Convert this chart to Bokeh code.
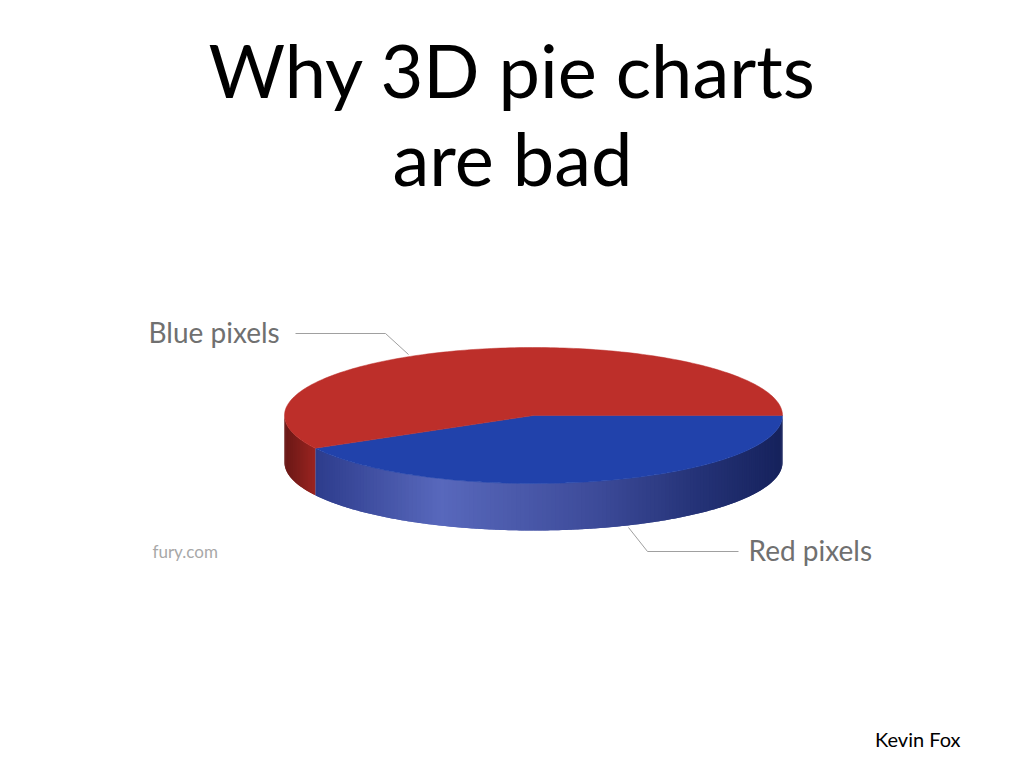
import numpy as np
from bokeh.plotting import figure
from bokeh.models import Range1d
from bokeh.core.properties import value
from bokeh.embed import file_html
from bokeh.resources import INLINE

# ---- data ----
slice_names = ["blue slice", "red slice"]
slice_values = [42, 58]          # percent, blue slice drawn first (clockwise from east)
slice_top_colors = ["#2142ab", "#bd2f2a"]
label_texts = ["Blue pixels", "Red pixels"]
title_lines = ["Why 3D pie charts", "are bad"]
source_text = "fury.com"
author_text = "Kevin Fox"

# ---- geometry (screen pixels, y downward) ----
W, H = 1024, 768
cx, cy, rx, ry, depth = 533, 415, 249, 68, 47

p = figure(width=W, height=H, output_backend="svg", toolbar_location=None,
           x_range=Range1d(0, W), y_range=Range1d(H, 0), min_border=0)
p.axis.visible = False
p.grid.visible = False
p.outline_line_color = None
p.background_fill_color = "white"
p.border_fill_color = "white"

def ell(t):
    return cx + rx * np.cos(t), cy + ry * np.sin(t)

total = float(sum(slice_values))
bounds = np.concatenate([[0.0], np.cumsum(slice_values) / total * 2 * np.pi])

# side colour ramps (by x position)
blue_stops_x = [315, 440, 600, 700, 782]
blue_stops_c = [(45, 60, 140), (88, 104, 188), (60, 74, 152), (36, 50, 118), (22, 34, 92)]
red_stops_x = [284, 300, 315]
red_stops_c = [(105, 24, 22), (130, 30, 27), (155, 36, 32)]

def ramp(x, xs, cs):
    cs = np.array(cs, dtype=float)
    r = np.interp(x, xs, cs[:, 0]); g = np.interp(x, xs, cs[:, 1]); b = np.interp(x, xs, cs[:, 2])
    return "#%02x%02x%02x" % (int(round(r)), int(round(g)), int(round(b)))

# side strips (front half, t in [0, pi]); each strip overlaps the next to hide seams
sx, sy, sc = [], [], []
N = 180
ts = np.linspace(0, np.pi, N + 1)
blue_end = bounds[1]
for i in range(N):
    t0 = ts[i]
    t1 = min(ts[i + 1] + (ts[1] - ts[0]), np.pi)
    tm = 0.5 * (ts[i] + ts[i + 1])
    if tm < blue_end and t1 > blue_end:
        t1 = blue_end
    if tm >= blue_end and t0 < blue_end:
        t0 = blue_end
    tt = np.linspace(t0, t1, 4)
    ex, ey = ell(tt)
    sx.append(np.concatenate([ex, ex[::-1]]).tolist())
    sy.append(np.concatenate([ey, (ey + depth)[::-1]]).tolist())
    xm = cx + rx * np.cos(tm)
    if tm < blue_end:
        sc.append(ramp(xm, blue_stops_x, blue_stops_c))
    else:
        sc.append(ramp(xm, red_stops_x, red_stops_c))
p.patches(sx, sy, fill_color=sc, line_color=None)

# top face wedges
wx, wy = [], []
for i in range(len(slice_values)):
    tt = np.linspace(bounds[i], bounds[i + 1], 200)
    ex, ey = ell(tt)
    wx.append(np.concatenate([[cx], ex]).tolist())
    wy.append(np.concatenate([[cy], ey]).tolist())
p.patches(wx, wy, fill_color=slice_top_colors, line_color=slice_top_colors, line_width=0.5)

# leader lines
p.line([295, 385, 408], [333, 333, 354], line_color="#a0a0a0", line_width=1)
p.line([628, 647, 738], [527, 551, 551], line_color="#a0a0a0", line_width=1)

# labels
p.text([148], [331], text=[label_texts[0]], text_font=value("Lato"), text_font_size="28px",
       text_color="#707070", text_baseline="alphabetic", text_align="left")
p.text([748], [549], text=[label_texts[1]], text_font=value("Lato"), text_font_size="28px",
       text_color="#707070", text_baseline="alphabetic", text_align="left")
p.text([152], [551], text=[source_text], text_font=value("Lato"), text_font_size="17px",
       text_color="#a8a8a8", text_baseline="alphabetic", text_align="left")

# title
p.text([512, 512], [69, 157], text=title_lines, text_font=value("Lato"), text_font_size="74px",
       text_color="black", text_baseline="alphabetic", text_align="center")

# author
p.text([960], [738], text=[author_text], text_font=value("Lato"), text_font_size="20px",
       text_color="black", text_baseline="alphabetic", text_align="right")

open("out.html", "w").write(file_html(p, INLINE))
